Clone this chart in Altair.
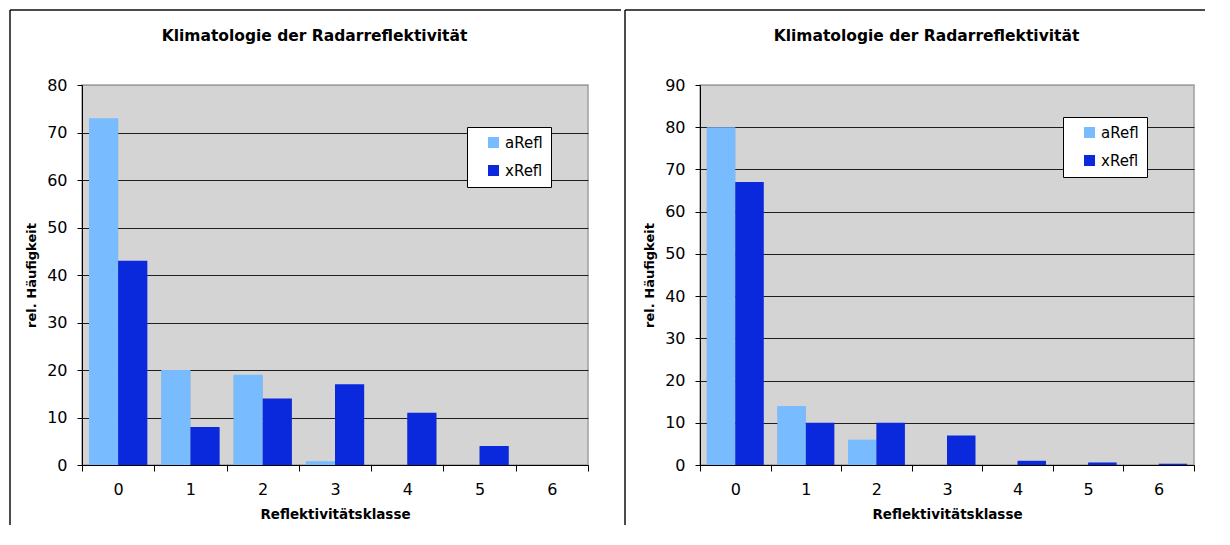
import altair as alt
import pandas as pd

classes = ["0", "1", "2", "3", "4", "5", "6"]
series = ["aRefl", "xRefl"]
left_aRefl = [73, 20, 19, 0.8, 0, 0, 0]
left_xRefl = [43, 8, 14, 17, 11, 4, 0]
right_aRefl = [80, 14, 6, 0, 0, 0, 0]
right_xRefl = [67, 10, 10, 7, 1, 0.6, 0.3]
left_ticks = [0, 10, 20, 30, 40, 50, 60, 70, 80]
right_ticks = [0, 10, 20, 30, 40, 50, 60, 70, 80, 90]

title_text = "Klimatologie der Radarreflektivität"
x_title = "Reflektivitätsklasse"
y_title = "rel. Häufigkeit"
colors = ["#78BBFF", "#0A28DC"]
FONT = "DejaVu Sans"
NBSP = "\u00a0"


def long_table(a_vals, x_vals):
    rows = []
    for c, va, vx in zip(classes, a_vals, x_vals):
        rows.append({"klasse": c, "serie": series[0], "wert": va})
        rows.append({"klasse": c, "serie": series[1], "wert": vx})
    return pd.DataFrame(rows)


def panel(df, ticks, w, h, frame_left, frame_right, leg_x, leg_y):
    ymax = ticks[-1]
    x_enc = alt.X(
        "klasse:N", sort=classes,
        scale=alt.Scale(paddingInner=0, paddingOuter=0),
        axis=alt.Axis(title=x_title, labelAngle=0, tickBand="extent",
                      domainColor="#000", tickColor="#000", tickSize=6,
                      labelFontSize=16, labelPadding=10, labelColor="#000",
                      titleFontSize=13.5, titleFontWeight="bold", titlePadding=10,
                      titleColor="#000", grid=False),
    )
    y_enc = alt.Y(
        "wert:Q",
        scale=alt.Scale(domain=[0, ymax], nice=False, zero=True),
        axis=alt.Axis(title=y_title, values=ticks, format="d",
                      domainColor="#000", tickColor="#000", tickSize=5,
                      labelFontSize=16, labelPadding=10, labelColor="#000",
                      titleFontSize=13, titleFontWeight="bold", titlePadding=8,
                      titleColor="#000",
                      grid=True,
                      gridColor=alt.condition(f"datum.value == {ymax}", alt.value("#a0a0a0"), alt.value("#1e1e1e")),
                      gridWidth=1),
    )
    xo = alt.XOffset("serie:N", sort=series,
                     scale=alt.Scale(paddingOuter=0.24, paddingInner=0))
    shadow = alt.Chart(df).mark_bar(color="#7a7a7a", opacity=0.45, xOffset=2, yOffset=1, clip=True).encode(
        x=x_enc, xOffset=xo, y=y_enc
    )
    bars = alt.Chart(df).mark_bar(clip=True).encode(
        x=x_enc, xOffset=xo, y=y_enc,
        color=alt.Color("serie:N", sort=series,
                        scale=alt.Scale(domain=series, range=colors),
                        legend=alt.Legend(title=None, orient="none", legendX=leg_x, legendY=leg_y,
                                          direction="vertical",
                                          fillColor="#ffffff", strokeColor="#000000",
                                          padding=8, symbolType="square", symbolSize=121,
                                          symbolStrokeWidth=0, symbolOffset=11,
                                          labelFontSize=15, labelColor="#000",
                                          labelOffset=4, rowPadding=12,
                                          labelExpr=f"datum.label + '{NBSP * 4}'")),
    )
    dummy = alt.Data(values=[{"k": 1}])
    vline = alt.Chart(dummy).mark_rule(color="#111", strokeWidth=1.5).encode(
        x=alt.value(frame_left), y=alt.value(-75), y2=alt.value(440)
    )
    hline = alt.Chart(dummy).mark_rule(color="#111", strokeWidth=1.5).encode(
        x=alt.value(frame_left), x2=alt.value(frame_right), y=alt.value(-75)
    )
    return alt.layer(vline, hline, shadow, bars).properties(
        width=w, height=h,
        title=alt.TitleParams(title_text, fontSize=15.5, fontWeight="bold", font=FONT,
                              color="#000", anchor="middle", dx=-20.5, offset=-35),
    )


left = panel(long_table(left_aRefl, left_xRefl), left_ticks, 506, 380, -72, 539, 385, 42)
right = panel(long_table(right_aRefl, right_xRefl), right_ticks, 494, 380, -75, 505, 363, 32)

chart = alt.hconcat(left, right, spacing=0).resolve_scale(
    color="independent", x="independent", y="independent", xOffset="independent"
).resolve_legend(color="independent").properties(
    padding={"left": 0, "top": 0, "right": 0, "bottom": 0}
).configure(font=FONT).configure_view(
    fill="#D4D4D4", stroke="#a0a0a0", strokeWidth=1.5
).configure_axis(labelFont=FONT, titleFont=FONT).configure_legend(labelFont=FONT)

chart.save("out.html", embed_options={"renderer": "svg", "actions": False})
